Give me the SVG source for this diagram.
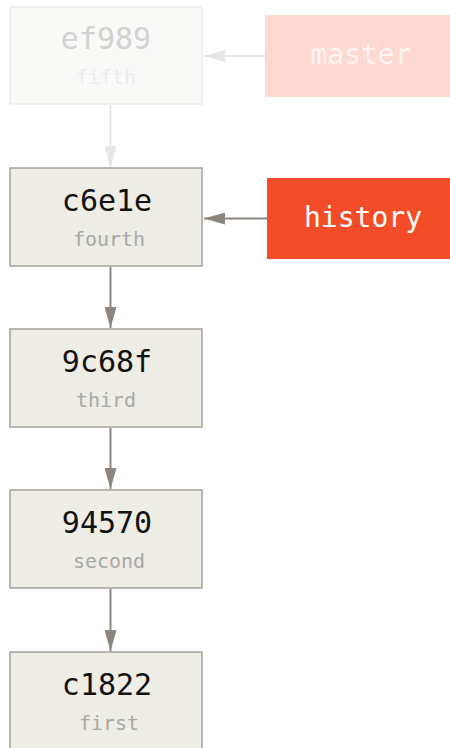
<svg xmlns="http://www.w3.org/2000/svg" width="450" height="748" viewBox="0 0 450 748">
<defs>
<style>
.box{fill:#eeede6;stroke:#a5a19b;stroke-width:1.5}
.hash{font-family:"DejaVu Sans Mono",monospace;font-size:30px;fill:#111;text-anchor:middle}
.msg{font-family:"DejaVu Sans Mono",monospace;font-size:20px;fill:#a8a8a8;text-anchor:middle}
.ref{font-family:"DejaVu Sans Mono",monospace;font-size:28px;fill:#fff;text-anchor:middle}
.edge{stroke:#8c867e;stroke-width:2;fill:none}
.faded{stroke:#e6e6e6}
</style>
<marker id="ah" markerWidth="22" markerHeight="12" refX="21" refY="6" orient="auto" markerUnits="userSpaceOnUse"><path d="M0,0 L21,6 L0,12 Z" fill="#8c867e"/></marker>
<marker id="ahf" markerWidth="22" markerHeight="12" refX="21" refY="6" orient="auto" markerUnits="userSpaceOnUse"><path d="M0,0 L21,6 L0,12 Z" fill="#e6e6e6"/></marker>
</defs>
<g id="connectors">
<line class="edge faded" x1="265" y1="56" x2="204" y2="56" marker-end="url(#ahf)"/>
<line class="edge faded" x1="110.5" y1="105" x2="110.5" y2="167" marker-end="url(#ahf)"/>
<line class="edge" x1="267" y1="218.5" x2="204" y2="218.5" marker-end="url(#ah)"/>
<line class="edge" x1="110.5" y1="267" x2="110.5" y2="328" marker-end="url(#ah)"/>
<line class="edge" x1="110.5" y1="428" x2="110.5" y2="489" marker-end="url(#ah)"/>
<line class="edge" x1="110.5" y1="589" x2="110.5" y2="651" marker-end="url(#ah)"/>
</g>
<g id="ef989">
<rect x="10" y="7" width="192" height="97" fill="#f9f9f7" stroke="#ececea" stroke-width="1.5"/>
<text class="hash" x="106" y="49" style="fill:#d2d2d0">ef989</text>
<text class="msg" x="106" y="84" style="fill:#ebebeb">fifth</text>
</g>
<g id="master">
<rect x="265" y="15" width="190" height="82" fill="#fdd9d1"/>
<text class="ref" x="361" y="64" style="fill:#fdf4f1">master</text>
</g>
<g id="c6e1e">
<rect class="box" x="10" y="168" width="192" height="98"/>
<text class="hash" x="107" y="211">c6e1e</text>
<text class="msg" x="109" y="246">fourth</text>
</g>
<g id="history">
<rect x="267" y="178" width="188" height="81" fill="#f24d28"/>
<text class="ref" x="363" y="227">history</text>
</g>
<g id="n9c68f">
<rect class="box" x="10" y="329" width="192" height="98"/>
<text class="hash" x="107" y="372">9c68f</text>
<text class="msg" x="106" y="407">third</text>
</g>
<g id="n94570">
<rect class="box" x="10" y="490" width="192" height="98"/>
<text class="hash" x="107" y="533">94570</text>
<text class="msg" x="109" y="568">second</text>
</g>
<g id="c1822">
<rect class="box" x="10" y="652" width="192" height="110"/>
<text class="hash" x="107" y="695">c1822</text>
<text class="msg" x="109" y="730">first</text>
</g>
</svg>
